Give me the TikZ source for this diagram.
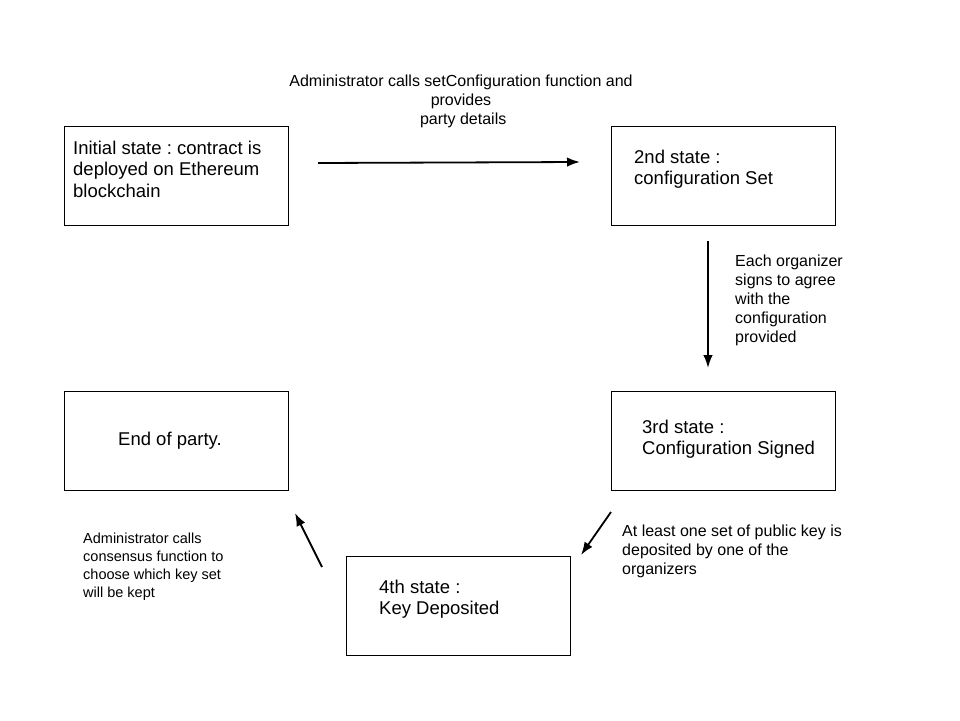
\documentclass[tikz,border=0pt]{standalone}
\usepackage{fontspec}
\setmainfont{Liberation Sans}
\usetikzlibrary{arrows.meta}
\frenchspacing
\begin{document}
\begin{tikzpicture}[x=1pt,y=-1pt,
  statebox/.style={draw=black,line width=0.9pt,minimum width=224pt,minimum height=99pt,inner sep=0pt,anchor=north west},
  boxtext/.style={anchor=north west,inner sep=0pt,align=left,font=\fontsize{18.5}{21.7}\selectfont},
  labeltext/.style={anchor=north west,inner sep=0pt,align=left,font=\fontsize{16}{19}\selectfont},
  flow/.style={line width=1.8pt,-{Latex[length=13pt,width=9.5pt]}}
]
\useasboundingbox (0,0) rectangle (960,720);
% boxes
\node[statebox] (s1) at (64,126) {};
\node[statebox] (s2) at (611,126) {};
\node[statebox] (s3) at (611,391) {};
\node[statebox] (s5) at (64,391) {};
\node[statebox] (s4) at (346,556) {};
% box texts
\node[boxtext] (t1) at (73,140.5) {Initial state : contract is\\deployed on Ethereum\\blockchain};
\node[boxtext] (t2) at (634,149.5) {2nd state :\\configuration Set};
\node[boxtext] (t3) at (642,419.5) {3rd state :\\Configuration Signed};
\node[boxtext] (t4) at (379,579.5) {4th state :\\Key Deposited};
\node[boxtext] (t5) at (118,431.5) {End of party.};
% arrow end points
\coordinate (a1s) at (318,163);
\coordinate (a1e) at (580,162);
\coordinate (a2s) at (708,241);
\coordinate (a2e) at (708,368);
\coordinate (a3s) at (611,512);
\coordinate (a3e) at (581,555);
\coordinate (a4s) at (322,567);
\coordinate (a4e) at (295,513);
\draw[flow] (a1s) -- (a1e);
\draw[flow] (a2s) -- (a2e);
\draw[flow] (a3s) -- (a3e);
\draw[flow] (a4s) -- (a4e);
% labels
\node[anchor=north,inner sep=0pt,align=center,font=\fontsize{16}{19}\selectfont] (l1) at (461,74.5) {Administrator calls setConfiguration function and\\provides\\~party details};
\node[labeltext] (l2) at (735,254.5) {Each organizer\\signs to agree\\with the\\configuration\\provided};
\node[labeltext] (l3) at (622,524.5) {At least one set of public key is\\deposited by one of the\\organizers};
\node[anchor=north west,inner sep=0pt,align=left,font=\fontsize{14.5}{18}\selectfont] (l4) at (83,533) {Administrator calls\\consensus function to\\choose which key set\\will be kept};
\end{tikzpicture}
\end{document}
